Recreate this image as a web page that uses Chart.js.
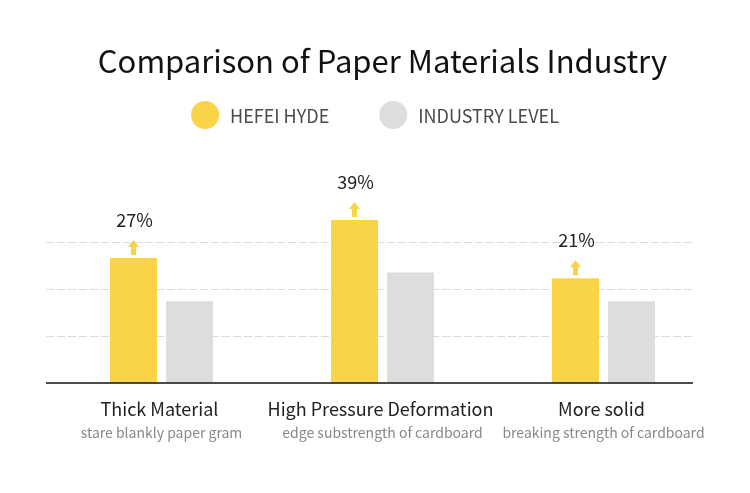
<!DOCTYPE html>
<html>
<head>
<meta charset="utf-8">
<title>Comparison of Paper Materials Industry</title>
<script src="https://cdn.jsdelivr.net/npm/chart.js@4.4.1/dist/chart.umd.min.js"></script>
<style>
  html, body { margin: 0; padding: 0; background: #fff; }
  #wrap { width: 750px; height: 493px; position: relative; }
</style>
</head>
<body>
<div id="wrap"><canvas id="paperChart"></canvas></div>
<script>
// chart data
var categories = ["Thick Material", "High Pressure Deformation", "More solid"];
var subLabels = ["stare blankly paper gram", "edge substrength of cardboard", "breaking strength of cardboard"];
var seriesNames = ["HEFEI HYDE", "INDUSTRY LEVEL"];
var hefeiValues = [26.6, 34.7, 22.3];
var industryValues = [17.4, 23.5, 17.4];
var increaseLabels = ["27%", "39%", "21%"];
var gridValues = [10, 20, 30];

var FONT = "'Noto Sans CJK SC', 'Noto Sans', sans-serif";
var YELLOW = "#F9D448";
var GREY = "#DEDDDB";

// dashed grid lines + black base line, a bit wider/narrower than the plot area like the original
var gridPlugin = {
  id: "gridLines",
  beforeDatasetsDraw: function (chart) {
    var ctx = chart.ctx;
    var y = chart.scales.y;
    ctx.save();
    ctx.strokeStyle = "#dcdcdc";
    ctx.lineWidth = 1;
    ctx.setLineDash([8, 3]);
    gridValues.forEach(function (v) {
      var py = Math.round(y.getPixelForValue(v)) + 0.5;
      ctx.beginPath();
      ctx.moveTo(46, py);
      ctx.lineTo(693, py);
      ctx.stroke();
    });
    ctx.restore();
  },
  afterDatasetsDraw: function (chart) {
    var ctx = chart.ctx;
    var y = chart.scales.y;
    var py = y.getPixelForValue(0);
    ctx.save();
    ctx.strokeStyle = "#111";
    ctx.lineWidth = 1.6;
    ctx.beginPath();
    ctx.moveTo(46, py);
    ctx.lineTo(693, py);
    ctx.stroke();
    ctx.restore();
  },
};

// percent label + little up arrow over each yellow bar
var increasePlugin = {
  id: "increaseMarks",
  afterDatasetsDraw: function (chart) {
    var ctx = chart.ctx;
    var meta = chart.getDatasetMeta(0);
    ctx.save();
    meta.data.forEach(function (bar, i) {
      var cx = bar.x;
      var top = bar.y;
      ctx.fillStyle = YELLOW;
      ctx.beginPath();
      ctx.moveTo(cx, top - 18);
      ctx.lineTo(cx + 5.5, top - 11);
      ctx.lineTo(cx + 2.5, top - 11);
      ctx.lineTo(cx + 2.5, top - 3);
      ctx.lineTo(cx - 2.5, top - 3);
      ctx.lineTo(cx - 2.5, top - 11);
      ctx.lineTo(cx - 5.5, top - 11);
      ctx.closePath();
      ctx.fill();

      ctx.fillStyle = "#222";
      ctx.font = "18px " + FONT;
      ctx.textAlign = "center";
      ctx.textBaseline = "alphabetic";
      ctx.fillText(increaseLabels[i], cx + 1, top - 31);
    });
    ctx.restore();
  },
};

// two-line category labels under the axis
var categoryPlugin = {
  id: "categoryLabels",
  afterDraw: function (chart) {
    var ctx = chart.ctx;
    var x = chart.scales.x;
    var bottom = chart.chartArea.bottom;
    ctx.save();
    ctx.textAlign = "center";
    ctx.textBaseline = "alphabetic";
    categories.forEach(function (c, i) {
      var px = x.getPixelForValue(i);
      ctx.fillStyle = "#222";
      ctx.font = "18px " + FONT;
      ctx.fillText(c, px - 2, bottom + 33);
      ctx.fillStyle = "#888";
      ctx.font = "14px " + FONT;
      ctx.fillText(subLabels[i], px, bottom + 55);
    });
    ctx.restore();
  },
};

// round-dot legend centred under the title
var legendPlugin = {
  id: "dotLegend",
  afterDraw: function (chart) {
    var ctx = chart.ctx;
    var sets = chart.data.datasets;
    var r = 14, gapText = 11, gapItems = 50, cy = 115;
    ctx.save();
    ctx.font = "18px " + FONT;
    var widths = sets.map(function (d) { return ctx.measureText(d.label).width; });
    var total = 0;
    widths.forEach(function (w, i) {
      total += 2 * r + gapText + w + (i ? gapItems : 0);
    });
    var cx = (chart.width - total) / 2;
    ctx.textBaseline = "middle";
    ctx.textAlign = "left";
    sets.forEach(function (d, i) {
      ctx.fillStyle = d.backgroundColor;
      ctx.beginPath();
      ctx.arc(cx + r, cy, r, 0, Math.PI * 2);
      ctx.fill();
      ctx.fillStyle = "#4a4a4a";
      ctx.fillText(d.label, cx + 2 * r + gapText, cy + 1);
      cx += 2 * r + gapText + widths[i] + gapItems;
    });
    ctx.restore();
  },
};

new Chart(document.getElementById("paperChart"), {
  type: "bar",
  data: {
    labels: categories,
    datasets: [
      { label: seriesNames[0], data: hefeiValues, backgroundColor: YELLOW, borderWidth: 0 },
      { label: seriesNames[1], data: industryValues, backgroundColor: GREY, borderWidth: 0 },
    ],
  },
  options: {
    responsive: true,
    maintainAspectRatio: false,
    animation: false,
    devicePixelRatio: 1,
    categoryPercentage: 0.507,
    barPercentage: 0.839,
    layout: { padding: { left: 51, right: 36, top: 0, bottom: 110 } },
    plugins: {
      legend: { display: false },
      tooltip: { enabled: false },
      title: {
        display: true,
        text: "Comparison of Paper Materials Industry",
        color: "#111",
        font: { family: FONT, size: 31, weight: "normal" },
        padding: { top: 42.4, bottom: 115.4 },
      },
    },
    scales: {
      x: { display: false },
      y: { display: false, min: 0, max: 40, ticks: { stepSize: 10 } },
    },
  },
  plugins: [gridPlugin, increasePlugin, categoryPlugin, legendPlugin],
});
</script>
</body>
</html>
